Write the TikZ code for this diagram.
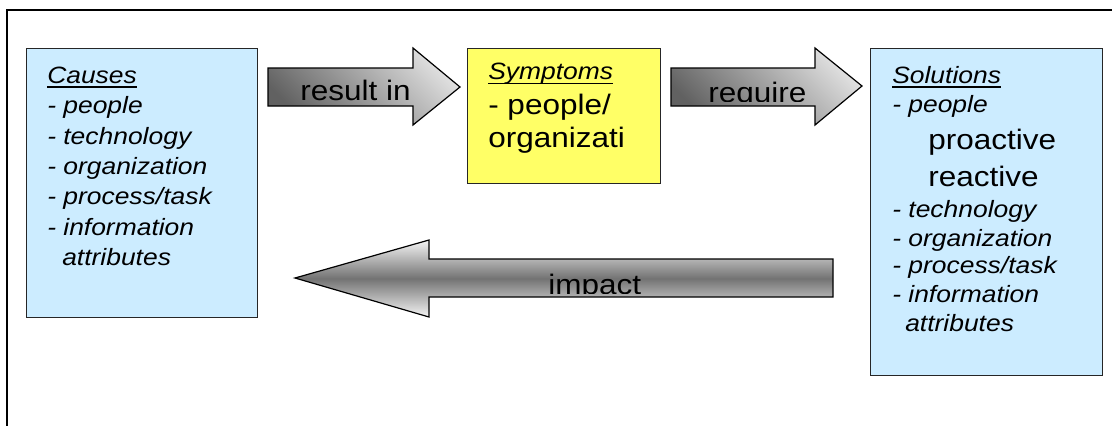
\documentclass[tikz,border=0pt]{standalone}
\usepackage{fontspec}
\setmainfont{Liberation Sans}[FakeStretch=1.12]
\definecolor{causeblue}{HTML}{CCECFF}
\definecolor{symyellow}{HTML}{FFFF66}
\begin{document}
\begin{tikzpicture}
        [x=0.75pt,y=-0.75pt,
         box/.style={draw=black!85,line width=0.8pt,anchor=north west,inner sep=0pt},
         rarrow/.style={draw=black,line width=0.9pt,top color=black!12,bottom color=black!62,shading angle=-45},
         larrow/.style={draw=black,line width=0.9pt,top color=black!4,bottom color=black!4,middle color=black!55},
         lbl/.style={inner sep=0pt,anchor=base west,font=\fontsize{21.1}{25}\selectfont},
         itm/.style={inner sep=0pt,anchor=base west,font=\fontsize{17.7}{21}\selectfont\itshape}]
        \useasboundingbox (0,0) rectangle (1112,425);
        \draw[line width=1.5pt] (7,10) rectangle (1130,440);

        % boxes
        \node[box,fill=causeblue,minimum width=173.25pt,minimum height=201.75pt] (causes) at (26,48) {};
        \node[box,fill=symyellow,minimum width=144.75pt,minimum height=101.25pt] (symptoms) at (467,48) {};
        \node[box,fill=causeblue,minimum width=174pt,minimum height=245.25pt] (solutions) at (870,48) {};

        % block arrows
        \draw[rarrow] (268,68) -- (413,68) -- (413,48) -- (460,87) -- (413,125) -- (413,106) -- (268,106) -- cycle;
        \draw[rarrow] (671,68) -- (815,68) -- (815,48) -- (862,86) -- (815,125) -- (815,106) -- (671,106) -- cycle;
        \draw[larrow] (833,259) -- (429,259) -- (429,240) -- (295,278) -- (429,317) -- (429,297) -- (833,297) -- cycle;

        \node[lbl] (resultin) at (300,100) {result in};
        \begin{scope}
          \clip (671,68) rectangle (815,101);
          \node[lbl] (require) at (708,102) {require};
        \end{scope}
        \begin{scope}
          \clip (429,259) rectangle (833,293);
          \node[lbl] (impact) at (548,294) {impact};
        \end{scope}

        % causes
        \node[itm] (causeshd) at (47,83) {Causes};
        \draw[line width=1.1pt] ([yshift=-3pt]causeshd.base west) -- ([yshift=-3pt]causeshd.base east);
        \foreach \y/\t [count=\i] in {113/people,144/technology,174/organization,204/{process/task},235/information}
        {\node[itm] (cause\i) at (47,\y) {- \t};}
        \node[itm] (causeattr) at (62,265) {attributes};

        % symptoms
        \node[itm] (symhd) at (488,79) {Symptoms};
        \draw[line width=1.1pt] ([yshift=-3.4pt]symhd.base west) -- ([yshift=-3.4pt]symhd.base east);
        \node[lbl] (sym1) at (488,114) {- people/};
        \node[lbl] (sym2) at (488,147) {organizati};

        % solutions
        \node[itm] (solhd) at (892,83) {Solutions};
        \draw[line width=1.1pt] ([yshift=-3pt]solhd.base west) -- ([yshift=-3pt]solhd.base east);
        \node[itm] (sol1) at (892,112) {- people};
        \node[lbl] (proactive) at (928,149) {proactive};
        \node[lbl] (reactive) at (928,186) {reactive};
        \foreach \y/\t [count=\i from 2] in {217/technology,246/organization,273/{process/task},302/information}
        {\node[itm] (sol\i) at (892,\y) {- \t};}
        \node[itm] (solattr) at (905,331) {attributes};
      \end{tikzpicture}
\end{document}
